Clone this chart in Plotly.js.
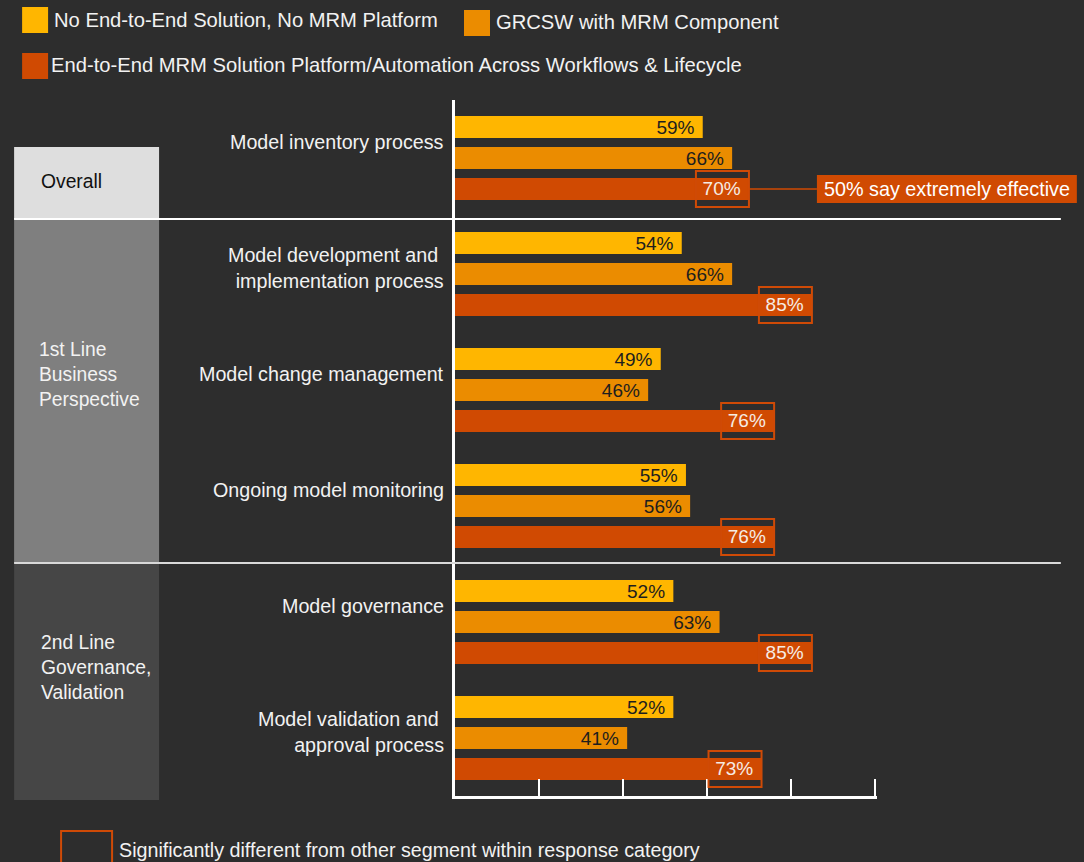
<!DOCTYPE html>
<html>
<head>
<meta charset="utf-8">
<script src="https://cdn.plot.ly/plotly-3.0.1.min.js"></script>
<style>
  html, body { margin: 0; padding: 0; background: #2d2d2d; }
  #chart { width: 1084px; height: 862px; }
</style>
</head>
<body>
<div id="chart"></div>
<script>
// ---------------- DATA ----------------
const processes = [
  "Model inventory process",
  "Model development and implementation process",
  "Model change management",
  "Ongoing model monitoring",
  "Model governance",
  "Model validation and approval process"
];
const processLabels = [
  "Model inventory process",
  "Model development and\u00a0<br>implementation process",
  "Model change management",
  "Ongoing model monitoring",
  "Model governance",
  "Model validation and\u00a0<br>approval process"
];
const seriesNames = [
  "No End-to-End Solution, No MRM Platform",
  "GRCSW with MRM Component",
  "End-to-End MRM Solution Platform/Automation Across Workflows & Lifecycle"
];
const noSolution = [59, 54, 49, 55, 52, 52];
const grcswMrm   = [66, 66, 46, 56, 63, 41];
const endToEnd   = [70, 85, 76, 76, 85, 73];
const significantEndToEnd = [true, true, true, true, true, true];
const segmentLabels = ["Overall", "1st Line<br>Business<br>Perspective", "2nd Line<br>Governance,<br>Validation"];
const calloutText = "50% say extremely effective";
const footnoteText = "Significantly different from other segment within response category";
const xTicks = [0, 20, 40, 60, 80, 100];

// ---------------- STYLE ----------------
const BG = "#2d2d2d";
const COLORS = ["#ffb600", "#eb8c00", "#d04a02"];
const TEXT_COLORS = ["#1e1e1e", "#1e1e1e", "#f6ece4"];
const FONT = "Liberation Sans, Arial, Helvetica, sans-serif";
const PXPERUNIT = 4.2;
const X_MAX = 100.5;
const PLOT = {l: 455, r: 455 + PXPERUNIT * X_MAX, t: 100, b: 796};
const W = 1084, H = 862;
const px2x = px => (px - PLOT.l) / (PLOT.r - PLOT.l);
const px2y = py => (PLOT.b - py) / (PLOT.b - PLOT.t);

const seriesValues = [noSolution, grcswMrm, endToEnd];
const traces = seriesValues.map((vals, k) => ({
  type: "bar",
  orientation: "h",
  name: seriesNames[k],
  x: vals,
  y: processes,
  marker: {color: COLORS[k], line: {width: 0}},
  text: vals.map(v => v + "%\u00a0"),
  textposition: "inside",
  insidetextanchor: "end",
  constraintext: "none",
  textangle: 0,
  insidetextfont: {family: FONT, size: 19, color: TEXT_COLORS[k]},
  hoverinfo: "skip",
  showlegend: false
}));

const shapes = [];
const annotations = [];

// Segment boxes on the left
const segBoxes = [
  {y0: 147, y1: 219, fill: "#dedede", color: "#111111", tx: 39, ty: 181},
  {y0: 219, y1: 563, fill: "#7f7f7f", color: "#f2f2f2", tx: 37, ty: 375},
  {y0: 563, y1: 800, fill: "#464646", color: "#f2f2f2", tx: 39, ty: 667}
];
segBoxes.forEach((s, i) => {
  shapes.push({type: "rect", xref: "paper", yref: "paper", layer: "below",
    x0: px2x(14), x1: px2x(159), y0: px2y(s.y1), y1: px2y(s.y0),
    fillcolor: s.fill, line: {width: 0}});
  annotations.push({xref: "paper", yref: "paper", x: px2x(s.tx), y: px2y(s.ty),
    xanchor: "left", yanchor: "middle", align: "left", showarrow: false,
    text: segmentLabels[i], font: {family: FONT, size: 19.3, color: s.color}});
});

// Divider lines
[219, 563].forEach((py, i) => {
  shapes.push({type: "line", xref: "paper", yref: "paper",
    x0: px2x(14), x1: px2x(1061), y0: px2y(py), y1: px2y(py),
    line: {color: i === 0 ? "#ffffff" : "#d9d9d9", width: 2}});
});

// Category labels
processLabels.forEach((lab, i) => {
  const multi = lab.indexOf("<br>") >= 0;
  annotations.push({xref: "paper", yref: "y", x: px2x(446), y: i,
    yshift: multi ? 6 : 16, xanchor: "right", yanchor: "middle", align: "right",
    showarrow: false, text: lab, font: {family: FONT, size: 19.7, color: "#f2f2f2"}});
});

// Significance boxes around End-to-End values
const slot = 0.8 / 3; // bargap 0.2, three series
endToEnd.forEach((v, i) => {
  if (!significantEndToEnd[i]) return;
  shapes.push({type: "rect", xref: "x", yref: "y",
    xsizemode: "pixel", xanchor: v, x0: -53, x1: 0,
    ysizemode: "pixel", yanchor: i + slot, y0: -18, y1: 18,
    line: {color: "#cf4a06", width: 2}, fillcolor: "rgba(0,0,0,0)"});
});

// Callout for overall
shapes.push({type: "line", xref: "x", yref: "y", x0: endToEnd[0], x1: (817 - PLOT.l) / PXPERUNIT,
  y0: slot, y1: slot, line: {color: "#d04a02", width: 1.5}});
shapes.push({type: "rect", xref: "paper", yref: "paper",
  x0: px2x(817), x1: px2x(1077), y0: px2y(203), y1: px2y(175),
  fillcolor: "#d04a02", line: {width: 0}});
annotations.push({xref: "paper", yref: "paper", x: px2x(947), y: px2y(189),
  xanchor: "center", yanchor: "middle", showarrow: false, text: calloutText,
  font: {family: FONT, size: 19.8, color: "#ffffff"}});

// Custom legend
const legendItems = [
  {sx: 22, sy: 7, tx: 52, ty: 20},
  {sx: 464, sy: 10, tx: 494, ty: 22},
  {sx: 22, sy: 53, tx: 49, ty: 65}
];
legendItems.forEach((it, k) => {
  shapes.push({type: "rect", xref: "paper", yref: "paper",
    x0: px2x(it.sx), x1: px2x(it.sx + 26), y0: px2y(it.sy + 26), y1: px2y(it.sy),
    fillcolor: COLORS[k], line: {width: 0}});
  annotations.push({xref: "paper", yref: "paper", x: px2x(it.tx), y: px2y(it.ty),
    xanchor: "left", yanchor: "middle", showarrow: false, text: seriesNames[k],
    font: {family: FONT, size: 20.2, color: "#f2f2f2"}});
});

// Footnote legend
shapes.push({type: "rect", xref: "paper", yref: "paper",
  x0: px2x(61), x1: px2x(112), y0: px2y(870), y1: px2y(831),
  line: {color: "#cf4a06", width: 2}, fillcolor: "rgba(0,0,0,0)"});
annotations.push({xref: "paper", yref: "paper", x: px2x(117), y: px2y(850),
  xanchor: "left", yanchor: "middle", showarrow: false, text: footnoteText,
  font: {family: FONT, size: 19.7, color: "#f2f2f2"}});

const layout = {
  width: W, height: H,
  paper_bgcolor: BG, plot_bgcolor: BG,
  margin: {l: PLOT.l, r: W - PLOT.r, t: PLOT.t, b: H - PLOT.b, pad: 0},
  barmode: "group", bargap: 0.2, bargroupgap: 0.29,
  font: {family: FONT, color: "#f2f2f2"},
  xaxis: {range: [0, X_MAX], tickvals: xTicks, showticklabels: false, showgrid: false,
    zeroline: false, showline: true, linecolor: "#ffffff", linewidth: 2.5,
    ticks: "inside", ticklen: 17, tickwidth: 2.5, tickcolor: "#ffffff", fixedrange: true},
  yaxis: {type: "category", range: [processes.length - 0.5, -0.5], showticklabels: false,
    showgrid: false, zeroline: false, showline: true, linecolor: "#ffffff", linewidth: 3,
    ticks: "", fixedrange: true},
  shapes: shapes,
  annotations: annotations,
  showlegend: false
};

Plotly.newPlot("chart", traces, layout, {displayModeBar: false, staticPlot: true});
</script>
</body>
</html>
